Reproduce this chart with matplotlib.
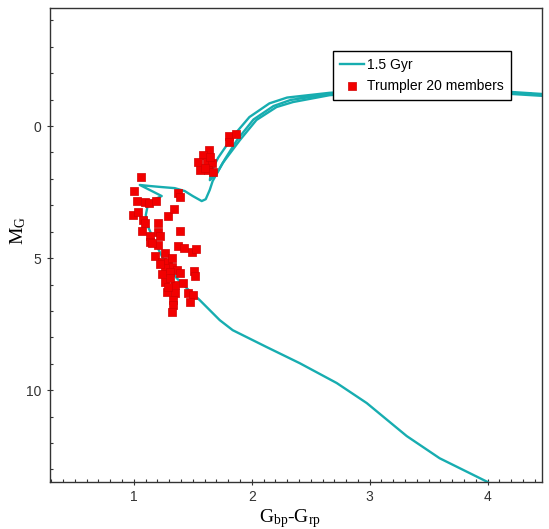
import numpy as np
import matplotlib.pyplot as plt
from matplotlib.ticker import MultipleLocator

# Isochrona 1.5 Gyr - ramo principal (sequencia principal + subgigantes + gigantes)
iso_cor = [4.03, 4.0, 3.593, 3.314, 2.975, 2.72, 2.407, 2.127, 1.839, 1.729, 1.559, 1.449,
           1.364, 1.263, 1.178, 1.119, 1.102, 1.119, 1.178, 1.237, 1.153, 1.051, 1.136,
           1.237, 1.347, 1.432, 1.50, 1.576, 1.61, 1.644, 1.669, 1.754, 1.90, 2.04, 2.21,
           2.35, 2.66, 3.08, 3.51, 3.93, 4.48]
iso_mag = [13.6, 13.48, 12.58, 11.74, 10.49, 9.73, 8.98, 8.37, 7.73, 7.35, 6.59, 6.14,
           5.76, 5.15, 4.39, 3.79, 3.37, 2.99, 2.77, 2.65, 2.46, 2.23, 2.27,
           2.31, 2.35, 2.46, 2.65, 2.84, 2.77, 2.42, 2.08, 1.40, 0.53, -0.23, -0.72,
           -0.91, -1.17, -1.29, -1.33, -1.29, -1.14]

# Isochrona - ramo horizontal / AGB (as linhas paralelas)
agb_cor = [4.48, 3.93, 3.51, 3.08, 2.66, 2.30, 2.15, 1.98, 1.835, 1.715, 1.655, 1.645,
           1.675, 1.70, 1.775, 1.875, 2.015, 2.185, 2.33, 2.66, 3.08, 3.51, 3.93, 4.48]
agb_mag = [-1.21, -1.37, -1.41, -1.37, -1.26, -1.08, -0.86, -0.34, 0.42, 1.20, 1.74, 2.05,
           1.91, 1.82, 1.24, 0.53, -0.25, -0.76, -0.99, -1.21, -1.33, -1.37, -1.33, -1.18]

# Membros do aglomerado Trumpler 20
membros_cor = [1.805, 1.864, 1.805, 1.636, 1.585, 1.542, 1.619, 1.661, 1.559, 1.627, 1.669,
               1.602, 1.644, 1.059, 1.0, 1.025, 1.093, 1.127, 1.186, 1.373, 1.39, 0.992,
               1.034, 1.076, 1.093, 1.288, 1.339, 1.203, 1.068, 1.203, 1.136, 1.22, 1.39,
               1.136, 1.203, 1.153, 1.373, 1.424, 1.492, 1.525, 1.178, 1.263, 1.237, 1.288,
               1.322, 1.263, 1.364, 1.237, 1.305, 1.39, 1.508, 1.517, 1.263, 1.347, 1.415,
               1.28, 1.347, 1.458, 1.50, 1.331, 1.475, 1.331, 1.322, 1.305, 1.288, 1.322, 1.22]
membros_mag = [0.38, 0.30, 0.61, 0.91, 1.10, 1.36, 1.36, 1.40, 1.67, 1.67, 1.74,
               1.59, 1.17, 1.93, 2.46, 2.84, 2.88, 2.92, 2.84, 2.54, 2.69, 3.37,
               3.26, 3.56, 3.67, 3.41, 3.14, 3.67, 3.98, 4.02, 4.17, 4.17, 3.98,
               4.39, 4.51, 4.43, 4.55, 4.62, 4.77, 4.66, 4.92, 4.81, 5.15, 5.15,
               5.34, 5.38, 5.45, 5.61, 5.53, 5.57, 5.49, 5.68, 5.91, 6.02, 5.95,
               6.29, 6.33, 6.33, 6.40, 6.59, 6.67, 6.78, 7.05, 5.76, 6.10, 5.0, 5.23]

plt.rcParams['mathtext.fontset'] = 'custom'
plt.rcParams['mathtext.rm'] = 'Liberation Serif'

fig = plt.figure(figsize=(5.49, 5.29), dpi=100)
ax = fig.add_axes([0.0911, 0.0888, 0.896, 0.896])

cor_iso = '#17adb0'
ax.plot(iso_cor, iso_mag, color=cor_iso, lw=1.7, label='1.5 Gyr', zorder=2)
ax.plot(agb_cor, agb_mag, color=cor_iso, lw=1.7, zorder=2)
ax.scatter(membros_cor, membros_mag, marker='s', s=40, facecolor='#f20000',
           edgecolor='#d40000', linewidth=0.5, label='Trumpler 20 members', zorder=3)

ax.set_xlim(0.29, 4.46)
ax.set_ylim(13.48, -4.47)

ax.xaxis.set_major_locator(MultipleLocator(1))
ax.xaxis.set_minor_locator(MultipleLocator(0.1))
ax.yaxis.set_major_locator(MultipleLocator(5))
ax.yaxis.set_minor_locator(MultipleLocator(1))
ax.tick_params(which='major', direction='inout', length=5, width=0.8, color='#333333',
               labelsize=10, labelcolor='#333333', top=False, right=False)
ax.tick_params(which='minor', direction='in', length=2.5, width=0.8, color='#333333',
               top=False, right=False)
for lab in ax.get_xticklabels() + ax.get_yticklabels():
    lab.set_fontfamily('Liberation Sans')

for sp in ax.spines.values():
    sp.set_color('#333333')
    sp.set_linewidth(1.0)

ax.set_xlabel(r'$\mathrm{G_{bp}}$-$\mathrm{G_{rp}}$', fontsize=14, family='Liberation Serif', labelpad=1)
ax.set_ylabel(r'$\mathrm{M_{G}}$', fontsize=14, family='Liberation Serif')
ax.yaxis.set_label_coords(-0.045, 0.53)
ax.xaxis.set_label_coords(0.488, -0.052)

leg = ax.legend(loc='upper right', bbox_to_anchor=(0.937, 0.909), borderaxespad=0,
                fancybox=False, framealpha=1, edgecolor='black', handlelength=1.7,
                handletextpad=0.25, borderpad=0.5, labelspacing=0.5,
                prop={'family': 'Liberation Sans', 'size': 10})
leg.get_frame().set_linewidth(1.0)

plt.savefig('out.png', dpi=100)
